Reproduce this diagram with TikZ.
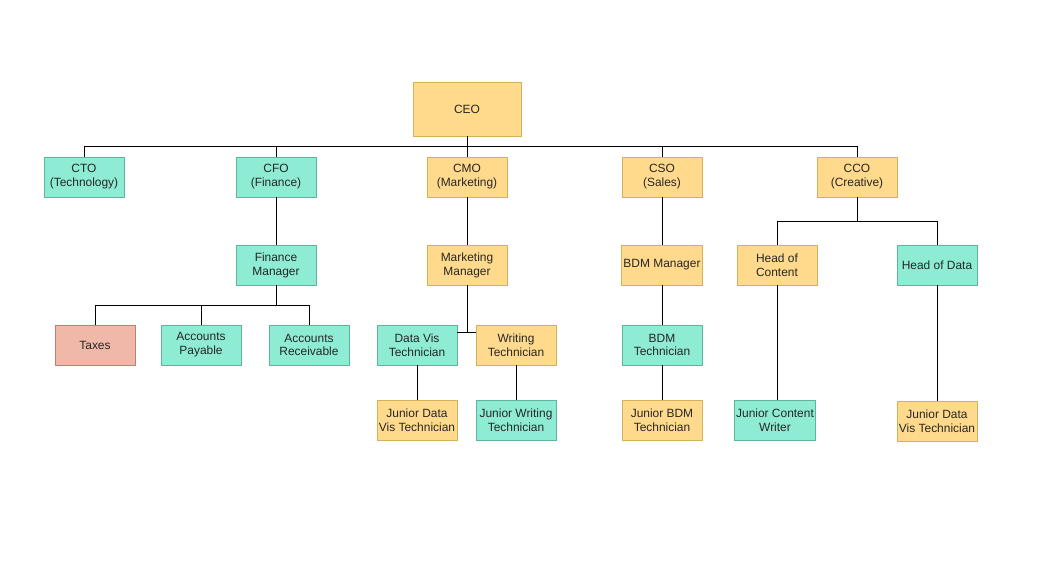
\documentclass[tikz,border=0pt]{standalone}
\usepackage{fontspec}
\setmainfont{Liberation Sans}
\usepackage{tikz}
\usetikzlibrary{positioning,calc}
\usepackage{xcolor}
\definecolor{mint}{HTML}{8EEBD4}
\definecolor{mintLine}{HTML}{5FB59C}
\definecolor{sand}{HTML}{FFDA8C}
\definecolor{sandLine}{HTML}{D4B25A}
\definecolor{salmon}{HTML}{F0B8A8}
\definecolor{salmonLine}{HTML}{C27E6E}

\begin{document}
\begin{tikzpicture}[
    x=0.02cm, y=-0.02cm,
    roleBox/.style={rectangle, minimum width=1.6cm, minimum height=0.8cm, align=center, inner sep=1pt, font=\fontsize{6.8}{7.9}\selectfont, text=black!85},
    greenBox/.style={roleBox, draw=mintLine, fill=mint},
    yellowBox/.style={roleBox, draw=sandLine, fill=sand},
    redBox/.style={roleBox, draw=salmonLine, fill=salmon},
    link/.style={draw=black, line width=0.5pt}
]
    \useasboundingbox (0,0) rectangle (1048,568);

    % Vertice
    \node[yellowBox, minimum width=2.16cm, minimum height=1.08cm] (ceo) at (467,109) {CEO};

    % Direttori
    \node[greenBox] (cto) at (84,177) {CTO\\(Technology)};
    \node[greenBox] (cfo) at (276,177) {CFO\\(Finance)};
    \node[yellowBox] (cmo) at (467,177) {CMO\\(Marketing)};
    \node[yellowBox] (cso) at (662,177) {CSO\\(Sales)};
    \node[yellowBox] (cco) at (857,177) {CCO\\(Creative)};

    \coordinate (ceoBus) at (467,146);
    \draw[link] (ceo.south) -- (ceoBus);
    \foreach \n in {cto,cfo,cmo,cso,cco}
        \draw[link] (ceoBus) -| (\n.north);

    % Finanza
    \node[greenBox] (finMgr) at (276,265) {Finance\\Manager};
    \node[redBox] (taxes) at (95,345) {Taxes};
    \node[greenBox] (accPay) at (201,345) {Accounts\\Payable};
    \node[greenBox] (accRec) at (309,345) {Accounts\\Receivable};

    \draw[link] (cfo.south) -- (finMgr.north);
    \coordinate (finBus) at (276,305);
    \draw[link] (finMgr.south) -- (finBus);
    \foreach \n in {taxes,accPay,accRec}
        \draw[link] (finBus) -| (\n.north);

    % Marketing
    \node[yellowBox] (mktMgr) at (467,265) {Marketing\\Manager};
    \node[greenBox] (dataVis) at (417,345) {Data Vis\\Technician};
    \node[yellowBox] (writing) at (516,345) {Writing\\Technician};
    \node[yellowBox] (jrDataVis) at (417,420) {Junior Data\\Vis Technician};
    \node[greenBox] (jrWriting) at (516,420) {Junior Writing\\Technician};

    \draw[link] (cmo.south) -- (mktMgr.north);
    \coordinate (mktJoin) at (467,332);
    \draw[link] (mktMgr.south) -- (mktJoin);
    \draw[link] (mktJoin) -- (dataVis.east |- mktJoin);
    \draw[link] (mktJoin) -- (writing.west |- mktJoin);
    \draw[link] (dataVis.south) -- (jrDataVis.north);
    \draw[link] (writing.south) -- (jrWriting.north);

    % Vendite
    \node[yellowBox] (bdmMgr) at (662,265) {BDM Manager};
    \node[greenBox] (bdmTech) at (662,345) {BDM\\Technician};
    \node[yellowBox] (jrBdm) at (662,420) {Junior BDM\\Technician};

    \draw[link] (cso.south) -- (bdmMgr.north);
    \draw[link] (bdmMgr.south) -- (bdmTech.north);
    \draw[link] (bdmTech.south) -- (jrBdm.north);

    % Creativo
    \node[yellowBox] (headContent) at (777,265) {Head of\\Content};
    \node[greenBox] (headData) at (937,265) {Head of Data};
    \node[greenBox] (jrContent) at (775,420) {Junior Content\\Writer};
    \node[yellowBox] (jrDataVisB) at (937,421) {Junior Data\\Vis Technician};

    \coordinate (ccoBus) at (857,221);
    \draw[link] (cco.south) -- (ccoBus);
    \draw[link] (ccoBus) -| (headContent.north);
    \draw[link] (ccoBus) -| (headData.north);
    \draw[link] (headContent.south) -- (headContent.south |- jrContent.north);
    \draw[link] (headData.south) -- (jrDataVisB.north);
\end{tikzpicture}
\end{document}
